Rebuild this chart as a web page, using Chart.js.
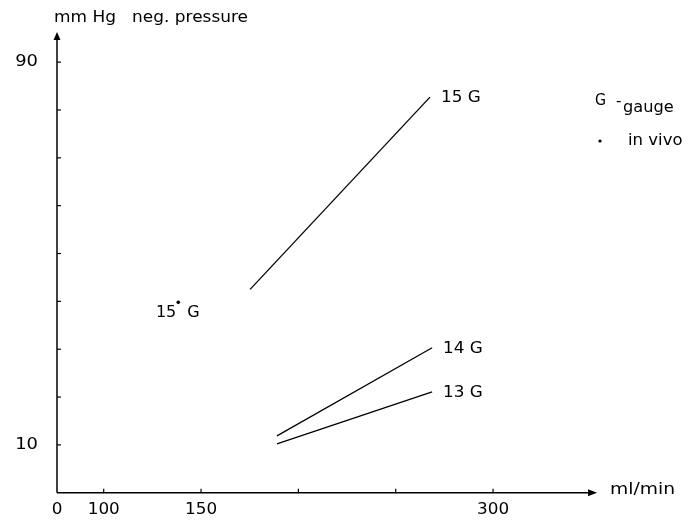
<!DOCTYPE html>
<html><head><meta charset="utf-8">
<script src="https://cdn.jsdelivr.net/npm/chart.js@4.4.0/dist/chart.umd.min.js"></script>
<style>html,body{margin:0;padding:0;background:#fff}#wrap{width:697px;height:522px;position:relative}</style>
</head><body><div id="wrap"><canvas id="c" width="697" height="522"></canvas></div>
<script>
// Data
const series15G = [{x:175.2, y:42.5},{x:267.6, y:82.7}];
const series14G = [{x:189.0, y:11.9},{x:268.7, y:30.3}];
const series13G = [{x:189.0, y:10.2},{x:268.7, y:21.1}];
const inVivo15G = [{x:138.3, y:39.8}];
const seriesNames = ["15 G","14 G","13 G"];
const inVivoName = ["15","G"];
const yTickValues = [10,20,30,40,50,60,70,80,90];
const yTickLabels = [{v:90,t:"90"},{v:10,t:"10"}];
const xTickValues = [100,150,200,250,300];
const xTickLabels = [{v:76,t:"0"},{v:100,t:"100"},{v:150,t:"150"},{v:300,t:"300"}];
const yTitle = "mm Hg   neg. pressure";
const xTitle = "ml/min";
const legendGauge = ["G","-","gauge"];
const legendVivo = "in vivo";

const FONT = '"DejaVu Sans", sans-serif';

// draw text stretched horizontally by factor s
function txt(ctx, t, x, y, align, s){
  ctx.save();
  ctx.translate(x, y); ctx.scale(s, 1);
  ctx.textAlign = align; ctx.fillText(t, 0, 0);
  ctx.restore();
}

const drawPlugin = {
  id:'custom',
  afterDraw(chart){
    const ctx = chart.ctx, xs = chart.scales.x, ys = chart.scales.y;
    const ox = xs.getPixelForValue(xs.min), oy = ys.getPixelForValue(0);
    const yTop = ys.getPixelForValue(ys.max), xRight = xs.getPixelForValue(xs.max);
    ctx.save();
    ctx.strokeStyle = '#000'; ctx.fillStyle = '#000'; ctx.lineWidth = 1.5;
    // axes
    ctx.beginPath(); ctx.moveTo(ox, oy); ctx.lineTo(ox, yTop+6); ctx.stroke();
    ctx.beginPath(); ctx.moveTo(ox, oy); ctx.lineTo(xRight-6, oy); ctx.stroke();
    // arrows
    ctx.beginPath(); ctx.moveTo(ox, yTop); ctx.lineTo(ox-3.5, yTop+8); ctx.lineTo(ox+3.5, yTop+8); ctx.closePath(); ctx.fill();
    ctx.beginPath(); ctx.moveTo(xRight, oy); ctx.lineTo(xRight-9, oy-3.5); ctx.lineTo(xRight-9, oy+3.5); ctx.closePath(); ctx.fill();
    // ticks
    ctx.lineWidth = 1.2;
    yTickValues.forEach(v=>{ const p=ys.getPixelForValue(v); ctx.beginPath(); ctx.moveTo(ox,p); ctx.lineTo(ox+4,p); ctx.stroke(); });
    xTickValues.forEach(v=>{ const p=xs.getPixelForValue(v); ctx.beginPath(); ctx.moveTo(p,oy); ctx.lineTo(p,oy-4); ctx.stroke(); });
    ctx.textBaseline='middle';
    // tick labels
    ctx.font = '16px '+FONT;
    yTickLabels.forEach(o=>txt(ctx, o.t, 38, ys.getPixelForValue(o.v), 'right', 1.12));
    xTickLabels.forEach(o=>txt(ctx, o.t, xs.getPixelForValue(o.v), 510, 'center', 1.05));
    // axis titles
    ctx.font = '15px '+FONT;
    txt(ctx, yTitle, 54, 18, 'left', 1.13);
    ctx.font = '16px '+FONT;
    txt(ctx, xTitle, 610, 490, 'left', 1.17);
    // line labels
    [series15G, series14G, series13G].forEach((s,i)=>{
      const e = s[s.length-1];
      txt(ctx, seriesNames[i], xs.getPixelForValue(e.x)+11, ys.getPixelForValue(e.y)+1, 'left', 1.05);
    });
    // in vivo label
    const px = xs.getPixelForValue(inVivo15G[0].x), py = ys.getPixelForValue(inVivo15G[0].y);
    txt(ctx, inVivoName[0], px-2, py+11, 'right', 1.0);
    txt(ctx, inVivoName[1], px+9, py+11, 'left', 1.0);
    // legend
    ctx.textBaseline='alphabetic';
    ctx.font = '15px '+FONT;
    txt(ctx, legendGauge[0], 595, 104.5, 'left', 0.95);
    txt(ctx, legendGauge[1], 616, 105.5, 'left', 1.0);
    txt(ctx, legendGauge[2], 623, 111.5, 'left', 1.08);
    ctx.beginPath(); ctx.arc(600, 141, 1.6, 0, Math.PI*2); ctx.fill();
    txt(ctx, legendVivo, 628, 144.5, 'left', 1.1);
    ctx.restore();
  }
};

const lineDs = (d)=>({data:d, showLine:true, borderColor:'#000', borderWidth:1.3, pointRadius:0, fill:false});
new Chart(document.getElementById('c'), {
  type:'scatter',
  data:{datasets:[lineDs(series15G), lineDs(series14G), lineDs(series13G),
    {data:inVivo15G, showLine:false, pointRadius:1.8, pointBackgroundColor:'#000', pointBorderWidth:0}]},
  options:{
    responsive:false, animation:false,
    layout:{padding:{left:57, right:100, top:32, bottom:29.25}},
    plugins:{legend:{display:false}, tooltip:{enabled:false}},
    scales:{
      x:{type:'linear', min:76, max:353.4, display:false},
      y:{type:'linear', min:0, max:96.3, display:false}
    }
  },
  plugins:[drawPlugin]
});
</script></body></html>
